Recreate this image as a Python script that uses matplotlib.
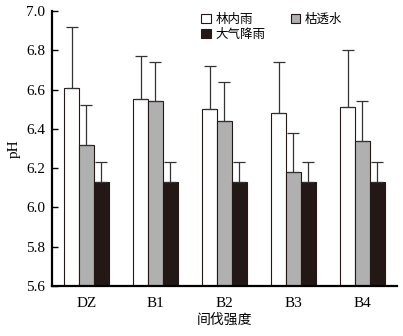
import numpy as np
import matplotlib
matplotlib.use("Agg")
import matplotlib.pyplot as plt

plt.rcParams['font.family'] = ['Liberation Serif', 'Noto Sans CJK SC']
plt.rcParams['font.size'] = 11

groups = ['DZ', 'B1', 'B2', 'B3', 'B4']
series = ['林内雨', '枯透水', '大气降雨']
throughfall = [6.61, 6.55, 6.50, 6.48, 6.51]
throughfall_err = [0.31, 0.22, 0.22, 0.26, 0.29]
litter = [6.32, 6.54, 6.44, 6.18, 6.34]
litter_err = [0.20, 0.20, 0.20, 0.20, 0.20]
rain = [6.13, 6.13, 6.13, 6.13, 6.13]
rain_err = [0.10, 0.10, 0.10, 0.10, 0.10]
yticks = [5.6, 5.8, 6.0, 6.2, 6.4, 6.6, 6.8, 7.0]

fig = plt.figure(figsize=(4.03, 3.36), dpi=100)
ax = fig.add_axes([0.129, 0.149, 0.856, 0.818])

x = np.arange(len(groups))
w = 0.215
vals = [throughfall, litter, rain]
errs = [throughfall_err, litter_err, rain_err]
colors = ['white', '#b0b0b0', '#231815']
bars = []
for i in range(3):
    xi = x + (i - 1) * w
    b = ax.bar(xi, np.array(vals[i]) - 5.6, w, bottom=5.6, color=colors[i],
               edgecolor='#231815', linewidth=0.8, label=series[i])
    bars.append(b)
    ax.errorbar(xi, vals[i], yerr=[np.zeros(len(groups)), errs[i]], fmt='none',
                ecolor='#333333', elinewidth=0.9, capsize=4, capthick=0.9)

ax.set_xlim(-0.5, 4.5)
ax.set_ylim(5.6, 7.0)
ax.set_yticks(yticks)
ax.set_yticklabels(['%.1f' % t for t in yticks])
ax.set_xticks(x)
ax.set_xticklabels(groups)
ax.tick_params(axis='y', direction='in', length=4, width=1, pad=5, labelsize=11)
ax.tick_params(axis='x', length=0, pad=8, labelsize=11)
for s in ['top', 'right']:
    ax.spines[s].set_visible(False)
for s in ['left', 'bottom']:
    ax.spines[s].set_linewidth(1.6)
ax.set_ylabel('pH', labelpad=4, fontsize=11)
ax.set_xlabel('间伐强度', labelpad=2, fontsize=10, family=['Noto Sans CJK SC'])

leg = ax.legend([bars[0], bars[2], bars[1]], [series[0], series[2], series[1]],
                ncol=2, loc='upper left', bbox_to_anchor=(0.40, 1.035),
                frameon=False, handlelength=0.75, handleheight=0.75,
                handletextpad=0.4, columnspacing=2.0, labelspacing=0.2,
                prop={'family': ['Noto Sans CJK SC'], 'size': 9})

fig.savefig('out.png', dpi=100)
